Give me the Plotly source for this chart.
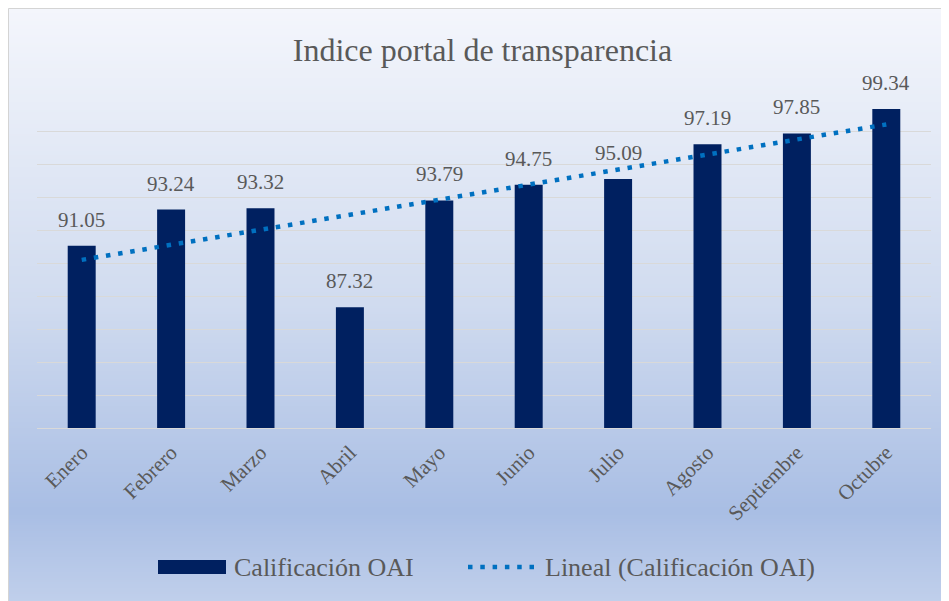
import base64, struct, zlib
import numpy as np
import plotly.graph_objects as go

# ---- data ----
months = ["Enero", "Febrero", "Marzo", "Abril", "Mayo", "Junio", "Julio",
          "Agosto", "Septiembre", "Octubre"]
scores = [91.05, 93.24, 93.32, 87.32, 93.79, 94.75, 95.09, 97.19, 97.85, 99.34]
series_name = "Calificación OAI"
trend_name = "Lineal (Calificación OAI)"
title_text = "Indice portal de transparencia"

# ---- geometry (reference pixel coords; page body has an 8px margin) ----
OFF = 8
W, H = 949 - OFF, 601 - OFF
PL, PR, PT, PB = 37, 931, 98, 428          # plot area in page pixels
ML, MR, MT, MB = PL - OFF, 949 - PR, PT - OFF, 601 - PB
PW, PH = PR - PL, PB - PT
def px(x): return (x - PL) / PW
def py(y): return (PB - y) / PH

FONT = "Liberation Serif, Times New Roman, serif"
TXT = "#595959"
BAR = "#002060"
TREND = "#0070C0"

# linear trend (least squares) computed from the data
xi = np.arange(1, len(scores) + 1)
slope, intercept = np.polyfit(xi, scores, 1)
trend = slope * xi + intercept

# ---- background gradient image ----
def lerp(a, b, t): return tuple(int(round(a[i] + (b[i] - a[i]) * t)) for i in range(3))
stops = [(0.0, (244, 246, 252)), (0.5, (208, 219, 239)), (0.85, (169, 190, 228)), (1.0, (192, 207, 235))]
N = 300
rows = []
for k in range(N):
    t = k / (N - 1)
    for j in range(len(stops) - 1):
        if stops[j][0] <= t <= stops[j + 1][0]:
            tt = (t - stops[j][0]) / (stops[j + 1][0] - stops[j][0])
            rows.append(lerp(stops[j][1], stops[j + 1][1], tt))
            break
raw = b"".join(b"\x00" + bytes(c) for c in rows)
def chunk(tag, data):
    return struct.pack(">I", len(data)) + tag + data + struct.pack(">I", zlib.crc32(tag + data) & 0xffffffff)
png = b"\x89PNG\r\n\x1a\n" + chunk(b"IHDR", struct.pack(">IIBBBBB", 1, N, 8, 2, 0, 0, 0)) \
      + chunk(b"IDAT", zlib.compress(raw)) + chunk(b"IEND", b"")
grad_uri = "data:image/png;base64," + base64.b64encode(png).decode()

fig = go.Figure()
fig.add_trace(go.Bar(x=months, y=scores, marker=dict(color=BAR, line=dict(width=0)),
                     name=series_name, showlegend=False, hoverinfo="skip"))
fig.add_trace(go.Scatter(x=months, y=trend, mode="lines", name=trend_name,
                         line=dict(color=TREND, width=4.5, dash="4.5px,7.8px"),
                         showlegend=False, hoverinfo="skip"))

annotations = []
for m, v in zip(months, scores):
    annotations.append(dict(x=m, y=v, text=f"{v:.2f}", showarrow=False, yanchor="bottom",
                            yshift=12, font=dict(family=FONT, size=21, color=TXT)))

# custom legend
annotations.append(dict(xref="paper", yref="paper", x=px(232), y=py(567), xanchor="left",
                        yanchor="middle", text=series_name, showarrow=False,
                        font=dict(family=FONT, size=26, color=TXT)))
annotations.append(dict(xref="paper", yref="paper", x=px(543), y=py(567), xanchor="left",
                        yanchor="middle", text=trend_name, showarrow=False,
                        font=dict(family=FONT, size=26, color=TXT)))

shapes = [
    dict(type="rect", xref="paper", yref="paper", x0=px(158), x1=px(226), y0=py(560), y1=py(574),
         fillcolor=BAR, line=dict(width=0)),
    dict(type="line", xref="paper", yref="paper", x0=px(468), x1=px(535), y0=py(567), y1=py(567),
         line=dict(color=TREND, width=4.5, dash="4.5px,7.8px")),
    dict(type="rect", xref="paper", yref="paper", x0=px(OFF + 0.5), x1=px(970), y0=py(OFF + 0.5),
         y1=py(620), line=dict(color="#d4d4d4", width=1), fillcolor="rgba(0,0,0,0)", layer="above"),
]

fig.update_layout(
    width=W, height=H,
    margin=dict(l=ML, r=MR, t=MT, b=MB, pad=0),
    paper_bgcolor="white", plot_bgcolor="rgba(0,0,0,0)",
    title=dict(text=title_text, x=(482.5 - OFF) / W, xanchor="center", y=1 - (50 - OFF) / H,
               yanchor="middle", font=dict(family=FONT, size=32, color=TXT)),
    bargap=0.687,
    showlegend=False,
    annotations=annotations,
    shapes=shapes,
    images=[dict(source=grad_uri, xref="paper", yref="paper", x=px(OFF), y=py(OFF),
                 sizex=(949 - OFF) / PW, sizey=(601 - OFF) / PH, xanchor="left", yanchor="top",
                 sizing="stretch", layer="below")],
    xaxis=dict(tickangle=-45, tickfont=dict(family=FONT, size=21, color=TXT),
               ticklabelstandoff=3,
               showline=True, linecolor="#d9d9d9", linewidth=1, ticks="", showgrid=False,
               fixedrange=True),
    yaxis=dict(range=[80, 100], dtick=2, showgrid=True, gridcolor="#d9d9d9", gridwidth=1,
               showticklabels=False, zeroline=False, showline=False, fixedrange=True),
)

fig.write_html("out.html", config={"displayModeBar": False})
